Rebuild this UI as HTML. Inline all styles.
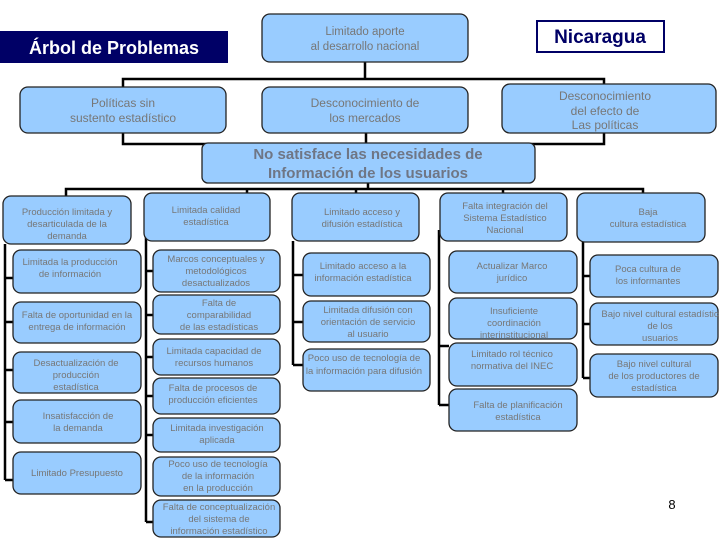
<!DOCTYPE html>
<html><head><meta charset="utf-8"><style>
body{margin:0;background:#fff;}
svg{display:block;font-family:"Liberation Sans",sans-serif;}
.b{fill:#99ccff;stroke:#222;stroke-width:1.3;}
.t{fill:#777;font-size:9.5px;text-anchor:middle;}
.l{stroke:#000;stroke-width:2.5;fill:none;}
</style></head><body>
<svg width="720" height="540" viewBox="0 0 720 540">
<rect x="0" y="31" width="228" height="32" fill="#000066"/>
<text x="114" y="54" fill="#fff" font-size="18" font-weight="bold" text-anchor="middle">Árbol de Problemas</text>
<rect x="537" y="21" width="127" height="31" fill="#fff" stroke="#000066" stroke-width="2"/>
<text x="600" y="43" fill="#000066" font-size="19" font-weight="bold" text-anchor="middle">Nicaragua</text>
<path class="l" d="M123 87V79H604V87M365 79V62"/>
<path class="l" d="M123 133V144H604V133M366 144V133M368 170V144"/>
<path class="l" d="M66 196V189H643V196M247 189V193M356 189V193M503 189V193M368 189V182"/>
<path class="l" d="M5 244V480M5 278H13M5 322H13M5 370H13M5 422H13M5 480H13"/>
<path class="l" d="M146 233V522M146 271H153M146 315H153M146 357H153M146 396H153M146 435H153M146 522H153"/>
<path class="l" d="M293 241V365M293 275H303M293 322H303M293 365H303"/>
<path class="l" d="M439 230V405M439 346H449M439 405H449"/>
<path class="l" d="M583 241V378M583 276H590M583 324H590M583 378H590"/>
<rect class="b" x="262" y="14" width="206" height="48" rx="8"/>
<text class="t" x="365" y="35" style="font-size:11.5px">Limitado aporte</text><text class="t" x="365" y="50" style="font-size:11.5px">al desarrollo nacional</text>
<rect class="b" x="20" y="87" width="206" height="46" rx="8"/>
<text class="t" x="123" y="107" style="font-size:12px">Políticas sin</text><text class="t" x="123" y="122" style="font-size:12px">sustento estadístico</text>
<rect class="b" x="262" y="87" width="206" height="46" rx="8"/>
<text class="t" x="365" y="107" style="font-size:12px">Desconocimiento de</text><text class="t" x="365" y="122" style="font-size:12px">los mercados</text>
<rect class="b" x="502" y="84" width="214" height="49" rx="8"/>
<text class="t" x="605" y="100" style="font-size:12px">Desconocimiento</text><text class="t" x="605" y="115" style="font-size:12px">del efecto de</text><text class="t" x="605" y="129" style="font-size:12px">Las políticas</text>
<rect class="b" x="202" y="143" width="333" height="40" rx="6"/>
<text class="t" x="368" y="159" style="font-size:15px;fill:#6f7685;font-weight:bold">No satisface las necesidades de</text><text class="t" x="368" y="178" style="font-size:15px;fill:#6f7685;font-weight:bold">Información de los usuarios</text>
<rect class="b" x="3" y="196" width="128" height="48" rx="8"/>
<text class="t" x="67" y="215">Producción limitada y</text><text class="t" x="67" y="227">desarticulada de la</text><text class="t" x="67" y="239">demanda</text>
<rect class="b" x="13" y="250" width="128" height="43" rx="8"/>
<text class="t" x="70" y="265">Limitada  la producción</text><text class="t" x="70" y="277">de información</text>
<rect class="b" x="13" y="302" width="128" height="41" rx="8"/>
<text class="t" x="77" y="318">Falta de oportunidad en la</text><text class="t" x="77" y="330">entrega de información</text>
<rect class="b" x="13" y="352" width="128" height="41" rx="8"/>
<text class="t" x="76" y="366">Desactualización de</text><text class="t" x="76" y="378">producción</text><text class="t" x="76" y="390">estadística</text>
<rect class="b" x="13" y="400" width="128" height="43" rx="8"/>
<text class="t" x="78" y="419">Insatisfacción de</text><text class="t" x="78" y="431">la demanda</text>
<rect class="b" x="13" y="452" width="128" height="42" rx="8"/>
<text class="t" x="77" y="476">Limitado Presupuesto</text>
<rect class="b" x="144" y="193" width="126" height="48" rx="8"/>
<text class="t" x="206" y="213">Limitada calidad</text><text class="t" x="206" y="225">estadística</text>
<rect class="b" x="153" y="250" width="127" height="42" rx="8"/>
<text class="t" x="216" y="262">Marcos conceptuales y</text><text class="t" x="216" y="274">metodológicos</text><text class="t" x="216" y="286">desactualizados</text>
<rect class="b" x="153" y="295" width="127" height="39" rx="8"/>
<text class="t" x="219" y="306">Falta de</text><text class="t" x="219" y="318">comparabilidad</text><text class="t" x="219" y="330">de las estadísticas</text>
<rect class="b" x="153" y="339" width="127" height="36" rx="8"/>
<text class="t" x="214" y="354">Limitada capacidad de</text><text class="t" x="214" y="366">recursos humanos</text>
<rect class="b" x="153" y="378" width="127" height="36" rx="8"/>
<text class="t" x="213" y="391">Falta de procesos de</text><text class="t" x="213" y="403">producción eficientes</text>
<rect class="b" x="153" y="418" width="127" height="34" rx="8"/>
<text class="t" x="217" y="431">Limitada investigación</text><text class="t" x="217" y="443">aplicada</text>
<rect class="b" x="153" y="457" width="127" height="39" rx="8"/>
<text class="t" x="218" y="467">Poco uso de tecnología</text><text class="t" x="218" y="479">de la información</text><text class="t" x="218" y="491">en la producción</text>
<rect class="b" x="153" y="500" width="127" height="37" rx="8"/>
<text class="t" x="219" y="510">Falta de conceptualización</text><text class="t" x="219" y="522">del sistema de</text><text class="t" x="219" y="534">información estadístico</text>
<rect class="b" x="292" y="193" width="127" height="48" rx="8"/>
<text class="t" x="362" y="215">Limitado acceso y</text><text class="t" x="362" y="227">difusión estadística</text>
<rect class="b" x="303" y="253" width="127" height="43" rx="8"/>
<text class="t" x="363" y="269">Limitado acceso a la</text><text class="t" x="363" y="281">información estadística</text>
<rect class="b" x="303" y="301" width="127" height="41" rx="8"/>
<text class="t" x="368" y="313">Limitada difusión con</text><text class="t" x="368" y="325">orientación de servicio</text><text class="t" x="368" y="337">al usuario</text>
<rect class="b" x="303" y="349" width="127" height="42" rx="8"/>
<text class="t" x="364" y="361">Poco uso de tecnología de</text><text class="t" x="364" y="374">la información para difusión</text>
<rect class="b" x="440" y="193" width="127" height="48" rx="8"/>
<text class="t" x="505" y="209">Falta integración del</text><text class="t" x="505" y="221">Sistema Estadístico</text><text class="t" x="505" y="233">Nacional</text>
<rect class="b" x="449" y="251" width="128" height="42" rx="8"/>
<text class="t" x="512" y="269">Actualizar Marco</text><text class="t" x="512" y="281">jurídico</text>
<rect class="b" x="449" y="298" width="128" height="41" rx="8"/>
<text class="t" x="514" y="314">Insuficiente</text><text class="t" x="514" y="326">coordinación</text><text class="t" x="514" y="338">interinstitucional</text>
<rect class="b" x="449" y="343" width="128" height="43" rx="8"/>
<text class="t" x="512" y="357">Limitado rol técnico</text><text class="t" x="512" y="369">normativa del INEC</text>
<rect class="b" x="449" y="389" width="128" height="42" rx="8"/>
<text class="t" x="518" y="408">Falta de planificación</text><text class="t" x="518" y="420">estadística</text>
<rect class="b" x="577" y="193" width="128" height="49" rx="8"/>
<text class="t" x="648" y="215">Baja</text><text class="t" x="648" y="227">cultura estadística</text>
<rect class="b" x="590" y="255" width="128" height="42" rx="8"/>
<text class="t" x="648" y="272">Poca cultura de</text><text class="t" x="648" y="284">los informantes</text>
<rect class="b" x="590" y="303" width="128" height="42" rx="8"/>
<text class="t" x="660" y="317">Bajo nivel cultural estadístic</text><text class="t" x="660" y="329">de los</text><text class="t" x="660" y="341">usuarios</text>
<rect class="b" x="590" y="354" width="128" height="43" rx="8"/>
<text class="t" x="654" y="367">Bajo  nivel cultural</text><text class="t" x="654" y="379">de los productores de</text><text class="t" x="654" y="391">estadística</text>
<text x="672" y="509" font-size="13" fill="#000" text-anchor="middle">8</text>
</svg>
</body></html>
